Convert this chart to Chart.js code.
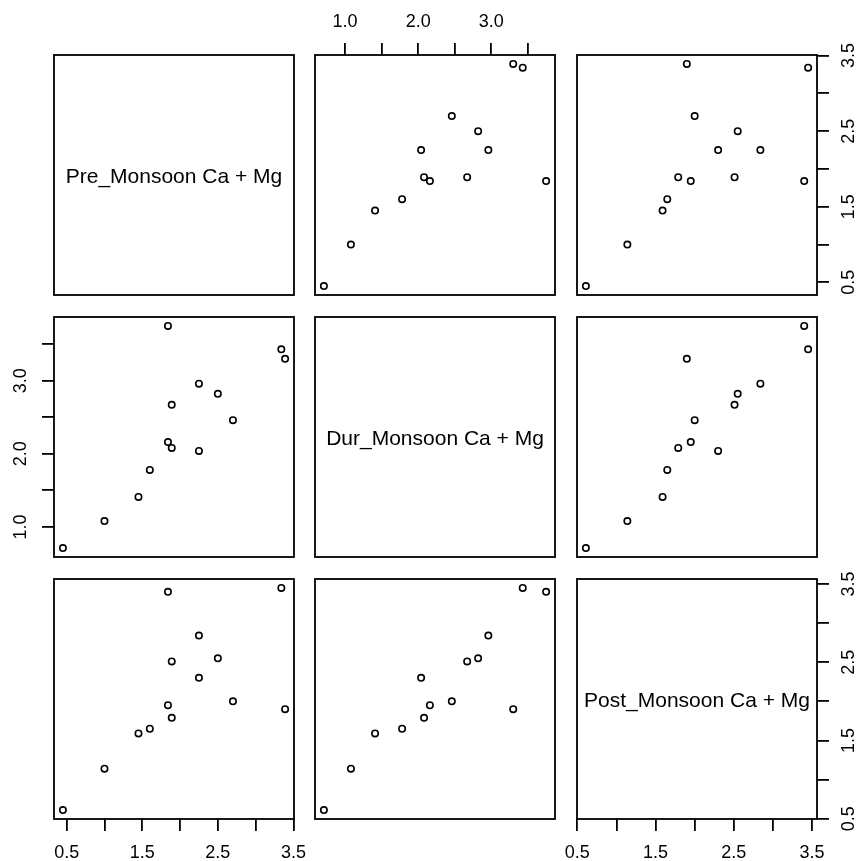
<!DOCTYPE html>
<html>
<head>
<meta charset="utf-8">
<title>Ca + Mg pairs plot</title>
<script src="https://cdn.jsdelivr.net/npm/chart.js@4.4.1/dist/chart.umd.min.js"></script>
<style>
  html, body { margin: 0; padding: 0; width: 859px; height: 861px; overflow: hidden; background: #fff; }
  canvas { position: absolute; }
</style>
</head>
<body>
<script>
// ===============================
// Data: one value per sample and season
// ===============================
const preMonsoon  = [0.45, 1.00, 1.45, 1.60, 2.25, 1.89, 1.84, 2.70, 1.89, 2.50, 2.25, 3.39, 3.34, 1.84];
const durMonsoon  = [0.71, 1.08, 1.41, 1.78, 2.04, 2.08, 2.16, 2.46, 2.67, 2.82, 2.96, 3.30, 3.43, 3.75];
const postMonsoon = [0.61, 1.14, 1.59, 1.65, 2.30, 1.79, 1.95, 2.00, 2.51, 2.55, 2.84, 1.90, 3.45, 3.40];

const varNames = ["Pre_Monsoon Ca + Mg", "Dur_Monsoon Ca + Mg", "Post_Monsoon Ca + Mg"];

// tick marks and the ticks that get a label
const preTicks   = [0.5, 1.0, 1.5, 2.0, 2.5, 3.0, 3.5];
const preLabels  = [0.5, 1.5, 2.5, 3.5];
const durTicks   = [1.0, 1.5, 2.0, 2.5, 3.0, 3.5];
const durLabels  = [1.0, 2.0, 3.0];
const postTicks  = [0.5, 1.0, 1.5, 2.0, 2.5, 3.0, 3.5];
const postLabels = [0.5, 1.5, 2.5, 3.5];

const series = [preMonsoon, durMonsoon, postMonsoon];
const tickSets = [preTicks, durTicks, postTicks];
const labelSets = [preLabels, durLabels, postLabels];

// ===============================
// Layout
// ===============================
const PANEL = 240;
const colLeft = [54, 315, 577];
const rowTop = [55, 317, 579];
const M = 60;      // canvas margin around each panel
const AXIS = 50;   // fixed axis thickness
const FONT = "'Liberation Sans', Arial, sans-serif";

// box around every panel
const boxPlugin = {
  id: "box",
  afterDraw(chart) {
    const a = chart.chartArea, ctx = chart.ctx;
    ctx.save();
    ctx.strokeStyle = "#000";
    ctx.lineWidth = 1.8;
    ctx.strokeRect(a.left, a.top, a.right - a.left, a.bottom - a.top);
    ctx.restore();
  }
};

// variable name in the diagonal panels
const diagPlugin = {
  id: "diag",
  afterDraw(chart, args, opts) {
    if (!opts.text) return;
    const a = chart.chartArea, ctx = chart.ctx;
    ctx.save();
    ctx.fillStyle = "#000";
    ctx.font = "21px " + FONT;
    ctx.textAlign = "center";
    ctx.textBaseline = "alphabetic";
    ctx.fillText(opts.text, (a.left + a.right) / 2, (a.top + a.bottom) / 2 + 7.5);
    ctx.restore();
  }
};

// R style range: data range widened by 4% on each side
function makeScale(k, position, show, pad) {
  const vals = series[k];
  const lo = Math.min(...vals), hi = Math.max(...vals);
  const r = hi - lo;
  const vertical = position === "left" || position === "right";
  return {
    type: "linear",
    position: position,
    display: show,
    bounds: "data",
    min: lo - 0.04 * r,
    max: hi + 0.04 * r,
    afterBuildTicks: (s) => { s.ticks = tickSets[k].map(v => ({ value: v })); },
    afterFit: (s) => {
      if (!show) { s.width = 0; s.height = 0; return; }
      if (vertical) s.width = AXIS; else s.height = AXIS;
    },
    grid: { drawOnChartArea: false, drawTicks: true, tickLength: 12, color: "#000", lineWidth: 1.8 },
    border: { display: false },
    ticks: {
      autoSkip: false,
      padding: pad,
      color: "#000",
      font: { family: FONT, size: 18 },
      minRotation: vertical ? 90 : 0,
      maxRotation: vertical ? 90 : 0,
      crossAlign: vertical ? "center" : "near",
      callback: (v) => labelSets[k].includes(v) ? v.toFixed(1) : ""
    }
  };
}

// ===============================
// One chart per panel
// ===============================
function makePanel(i, j) {
  const n = series.length;
  const size = PANEL + 2 * M;
  const canvas = document.createElement("canvas");
  canvas.width = size;
  canvas.height = size;
  canvas.style.left = (colLeft[j] - M) + "px";
  canvas.style.top = (rowTop[i] - M) + "px";
  document.body.appendChild(canvas);

  const showTop = i === 0 && j % 2 === 1;
  const showBottom = i === n - 1 && j % 2 === 0;
  const showLeft = j === 0 && i % 2 === 1;
  const showRight = j === n - 1 && i % 2 === 0;

  const points = i === j ? [] : series[j].map((v, k) => ({ x: v, y: series[i][k] }));

  new Chart(canvas, {
    type: "scatter",
    data: {
      datasets: [{
        data: points,
        pointStyle: "circle",
        pointRadius: 3.2,
        pointBorderWidth: 1.6,
        borderColor: "#000",
        backgroundColor: "rgba(0,0,0,0)"
      }]
    },
    options: {
      responsive: false,
      animation: false,
      devicePixelRatio: 1,
      layout: {
        autoPadding: false,
        padding: {
          top: showTop ? M - AXIS : M,
          bottom: showBottom ? M - AXIS : M,
          left: showLeft ? M - AXIS : M,
          right: showRight ? M - AXIS : M
        }
      },
      scales: {
        x: makeScale(j, showTop ? "top" : "bottom", showTop || showBottom, showTop ? 10 : 11),
        y: makeScale(i, showLeft ? "left" : "right", showLeft || showRight, 8)
      },
      plugins: {
        legend: { display: false },
        tooltip: { enabled: false },
        diag: { text: i === j ? varNames[i] : "" }
      }
    },
    plugins: [boxPlugin, diagPlugin]
  });
}

for (let i = 0; i < 3; i++) {
  for (let j = 0; j < 3; j++) {
    makePanel(i, j);
  }
}
</script>
</body>
</html>
